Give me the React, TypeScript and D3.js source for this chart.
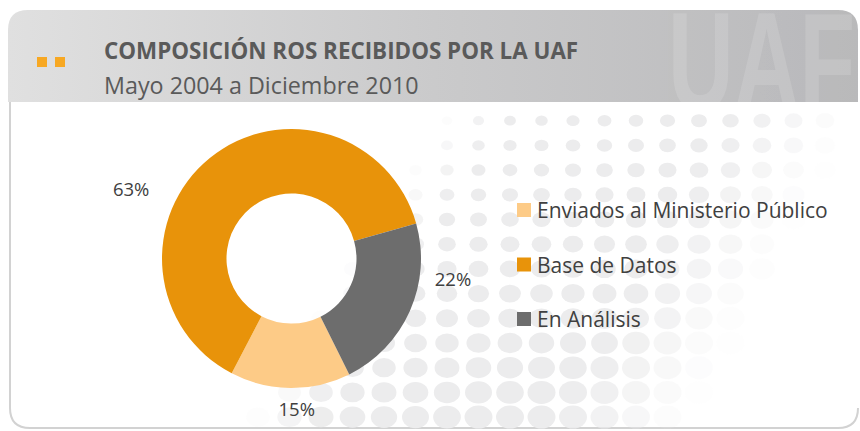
import React from "react";
import * as d3 from "d3";

const categories = ["Enviados al Ministerio Público", "Base de Datos", "En Análisis"];
const values = [15, 63, 22];
const colors = ["#fdcb87", "#e8930a", "#6d6d6d"];
const title = "COMPOSICIÓN ROS RECIBIDOS POR LA UAF";
const subtitle = "Mayo 2004 a Diciembre 2010";

// layout (label polar placement, degrees clockwise from north / px from centre)
const labelAngles = [178, 293.6, 96.9];
const labelRadii = [149.6, 175, 162.7];

const W = 860;
const H = 431;
const cx = 291.5;
const cy = 258.5;
const outerR = 129.5;
const innerR = 65;
const FONT = "'Open Sans', sans-serif";

function ramp(v: number) {
  const t = Math.max(0, Math.min(1, v));
  return t * t * (3 - 2 * t);
}

export default function App() {
  const deg = Math.PI / 180;
  const start = 153.5 * deg;
  const pie = d3
    .pie<number>()
    .sort(null)
    .value((d) => d)
    .startAngle(start)
    .endAngle(start + 2 * Math.PI);
  const arcs = pie(values);
  const arcGen = d3.arc<d3.PieArcDatum<number>>().innerRadius(innerR).outerRadius(outerR);
  const total = d3.sum(values);

  // decorative halftone dots
  const dots: { x: number; y: number; rx: number; ry: number; o: number }[] = [];
  const xs = d3.range(-10, 12).map((k) => 510 + 31.5 * k);
  const ys = d3.range(0, 13).map((j) => 120.7 + 24.7 * j);
  ys.forEach((y) => {
    xs.forEach((x) => {
      const t = (y - 110) / 310;
      const u = (x - 220) / 560;
      const rx = Math.min(14, 2.5 + 9 * t + 6 * u);
      const ry = rx * 0.82;
      const leftEdge = 430 - (y - 110) * 0.62;
      const rightEdge = 880 - (y - 110) * 0.55;
      const o = ramp((x - leftEdge) / 90) * ramp((rightEdge - x) / 170);
      if (o > 0.03 && rx > 1) dots.push({ x, y, rx, ry, o });
    });
  });

  const legendY = [210, 264.5, 319];

  return (
    <svg width={W} height={H} style={{ position: "absolute", left: 0, top: 0 }}>
      <defs>
        <linearGradient id="hdr" x1="0" x2="1" y1="0" y2="0">
          <stop offset="0" stopColor="#e0e0e0" />
          <stop offset="0.5" stopColor="#cacacb" />
          <stop offset="1" stopColor="#b9b9bb" />
        </linearGradient>
        <clipPath id="hdrclip">
          <path d="M8,102 L8,30 Q8,10 28,10 L838,10 Q858,10 858,30 L858,102 Z" />
        </clipPath>
      </defs>
      <rect x={0} y={0} width={W} height={H} fill="#ffffff" />
      {/* body frame */}
      <path
        d="M10,100 L10,408 Q10,428 30,428 L838,428 Q858,428 858,408"
        fill="#ffffff"
        stroke="#d2d2d2"
        strokeWidth={2}
      />
      {/* dots */}
      <g>
        {dots.map((d, i) => (
          <ellipse key={i} cx={d.x} cy={d.y} rx={d.rx} ry={d.ry} fill="#ececed" opacity={d.o} />
        ))}
      </g>
      {/* header */}
      <g clipPath="url(#hdrclip)">
        <rect x={8} y={10} width={852} height={92} fill="url(#hdr)" />
        <text
          transform="translate(668,110) scale(0.65,1)"
          x={0}
          y={0}
          fontFamily="'Liberation Sans', sans-serif"
          fontWeight="bold"
          fontSize={140}
          fill="#ffffff"
          opacity={0.13}
        >
          UAF
        </text>
      </g>
      <rect x={37} y={57} width={10} height={10} fill="#f7a823" />
      <rect x={55} y={57} width={10} height={10} fill="#f7a823" />
      <text x={104} y={59} fontFamily={FONT} fontWeight="bold" fontSize={22.4} fill="#5a5a5a">
        {title}
      </text>
      <text x={104} y={94} fontFamily={FONT} fontSize={23.3} fill="#5a5a5a">
        {subtitle}
      </text>

      {/* donut */}
      <g transform={`translate(${cx},${cy})`}>
        {arcs.map((a, i) => (
          <path key={i} d={arcGen(a) || ""} fill={colors[i]} />
        ))}
        {arcs.map((a, i) => {
          const ang = labelAngles[i] * deg;
          const r = labelRadii[i];
          return (
            <text
              key={"l" + i}
              x={r * Math.sin(ang)}
              y={-r * Math.cos(ang)}
              textAnchor="middle"
              dominantBaseline="central"
              fontFamily={FONT}
              fontSize={18.5}
              fill="#404040"
            >
              {Math.round((a.value / total) * 100) + "%"}
            </text>
          );
        })}
      </g>

      {/* legend */}
      {categories.map((c, i) => (
        <g key={c} transform={`translate(517,${legendY[i]})`}>
          <rect x={0} y={-7} width={14} height={14} fill={colors[i]} />
          <text x={20} y={0} dominantBaseline="central" fontFamily={FONT} fontSize={21} fill="#404040">
            {c}
          </text>
        </g>
      ))}
    </svg>
  );
}
